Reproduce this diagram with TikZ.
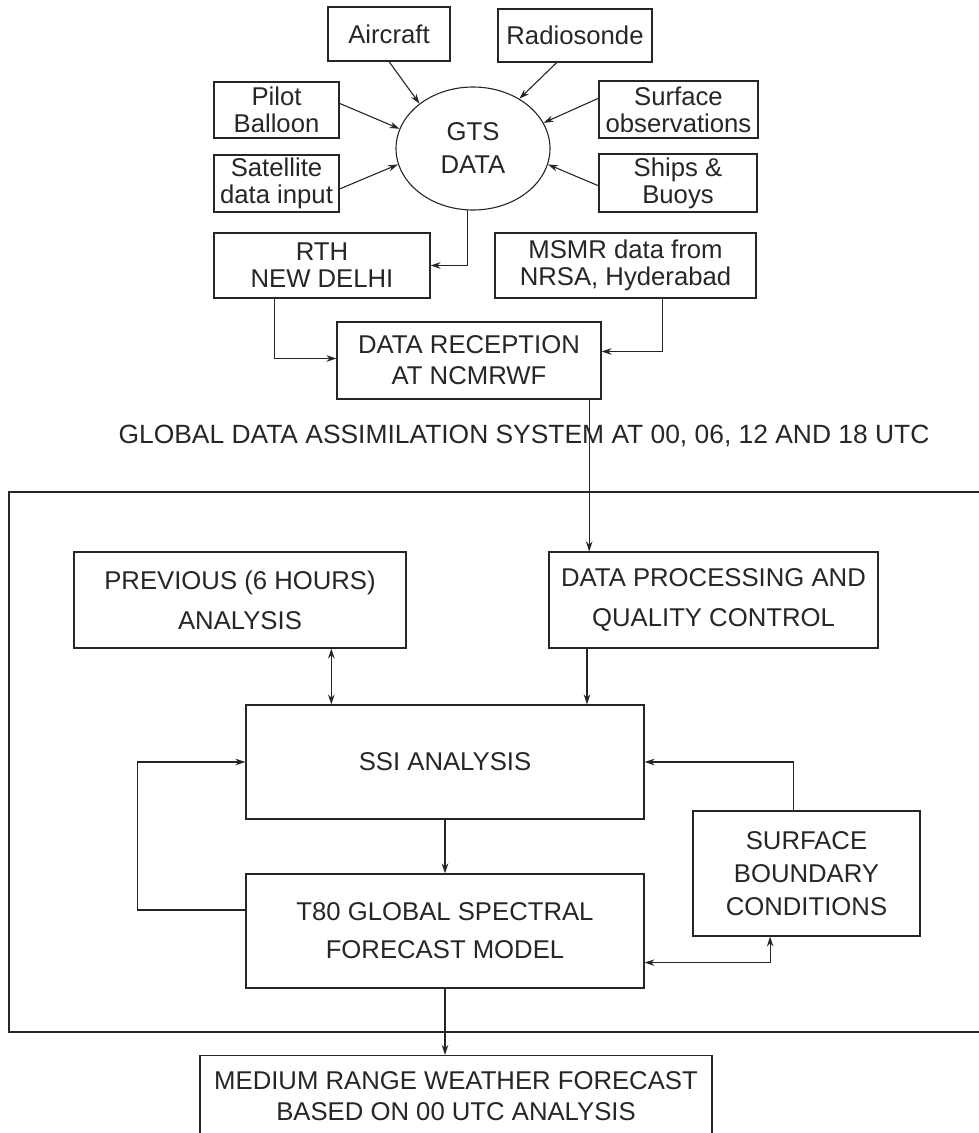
\documentclass[tikz,border=0pt]{standalone}
\usepackage{fontspec}
\setmainfont{Liberation Sans}
\usetikzlibrary{shapes.geometric,arrows.meta}

\begin{document}
\begin{tikzpicture}[x=1pt,y=-1pt,black!85,line width=1.1pt,
    >={Stealth[length=10pt,width=6.5pt]},
    obsbox/.style={draw,inner sep=0pt,align=center,font={\fontsize{25.7}{27}\selectfont}},
    stagebox/.style={obsbox,font={\fontsize{25.7}{31}\selectfont}}]
      \useasboundingbox (0,0) rectangle (978,1133);

       % observations
      \node[obsbox,minimum width=122pt,minimum height=54pt] (air) at (389,34) {Aircraft};
      \node[obsbox,minimum width=154pt,minimum height=53pt] (rad) at (575,35.5) {Radiosonde};
      \node[obsbox,minimum width=125pt,minimum height=56pt] (pil) at (276.5,110) {Pilot\\Balloon};
      \node[obsbox,minimum width=125pt,minimum height=57pt] (sat) at (276.5,183.5) {Satellite\\data input};
      \node[obsbox,minimum width=159pt,minimum height=57pt] (sfc) at (678.5,109.5) {Surface\\observations};
      \node[obsbox,minimum width=158pt,minimum height=58pt] (shp) at (678,183) {Ships \&\\Buoys};

       % GTS
      \node[obsbox,ellipse,minimum width=154pt,minimum height=123pt,
        font={\fontsize{25.7}{33}\selectfont}] (gts) at (473,148.5) {GTS\\DATA};
      \draw[->] (air.south) -- (gts.140);
      \draw[->] (rad.236) -- (gts.47);
      \draw[->] (pil.6) -- (gts.165);
      \draw[->] (sat.-5) -- (gts.192);
      \draw[->] (sfc.172) -- (gts.20);
      \draw[->] (shp.182) -- (gts.348);

       % reception
      \node[obsbox,minimum width=216pt,minimum height=65pt] (rth) at (322,265.5) {RTH\\NEW DELHI};
      \node[obsbox,minimum width=261pt,minimum height=65pt] (msmr) at (625.5,265.5) {MSMR data from\\NRSA, Hyderabad};
      \node[stagebox,minimum width=264pt,minimum height=77pt] (dr) at (469,360.5) {DATA RECEPTION\\AT NCMRWF};
      \draw[->] (gts.265) |- (rth.east);
      \draw[->] (rth.215) |- ([yshift=2pt]dr.west);
      \draw[->] (msmr.318) |- ([yshift=9pt]dr.east);

      \node[font={\fontsize{26.4}{31}\selectfont}] (gdas) at (524,436)
        {GLOBAL DATA ASSIMILATION SYSTEM AT 00, 06, 12 AND 18 UTC};

       % assimilation frame
      \draw (995,492) -- (9,492) -- (9,1032) -- (995,1032);

      \node[stagebox,minimum width=332pt,minimum height=96pt,
        font={\fontsize{25.7}{40}\selectfont}] (prev) at (240,600) {PREVIOUS (6 HOURS)\\ANALYSIS};
      \node[stagebox,minimum width=329pt,minimum height=96pt,
        font={\fontsize{25.7}{40}\selectfont}] (dp) at (713.5,600) {DATA PROCESSING AND\\QUALITY CONTROL};
      \node[stagebox,minimum width=398pt,minimum height=114pt] (ssi) at (445,762) {SSI ANALYSIS};
      \node[stagebox,minimum width=398pt,minimum height=114pt] (t80) at (445,931) {T80 GLOBAL SPECTRAL\\[7pt]FORECAST MODEL};
      \node[stagebox,minimum width=227pt,minimum height=125pt,
        font={\fontsize{25.7}{33}\selectfont}] (sbc) at (806.5,873.5) {SURFACE\\BOUNDARY\\CONDITIONS};

      \draw[->] (dr.342) -- (dr.342 |- dp.north);
      \draw[<->] (prev.332) -- (prev.332 |- ssi.north);
      \draw[->] (dp.201) -- (dp.201 |- ssi.north);
      \draw[->] (ssi.south) -- (t80.north);
      \draw[->] (t80.174) -- ++(-108,0) |- (ssi.west);
      \draw[->] (sbc.102) |- (ssi.east);
      \draw[<->] (t80.351) -| (sbc.240);

       % forecast
      \node[stagebox,anchor=north,minimum width=512pt,inner ysep=16pt] (mrwf) at (456,1055)
        {MEDIUM RANGE WEATHER FORECAST\\BASED ON 00 UTC ANALYSIS};
      \draw[->] (t80.south) -- (t80.south |- mrwf.north);
    \end{tikzpicture}
\end{document}
